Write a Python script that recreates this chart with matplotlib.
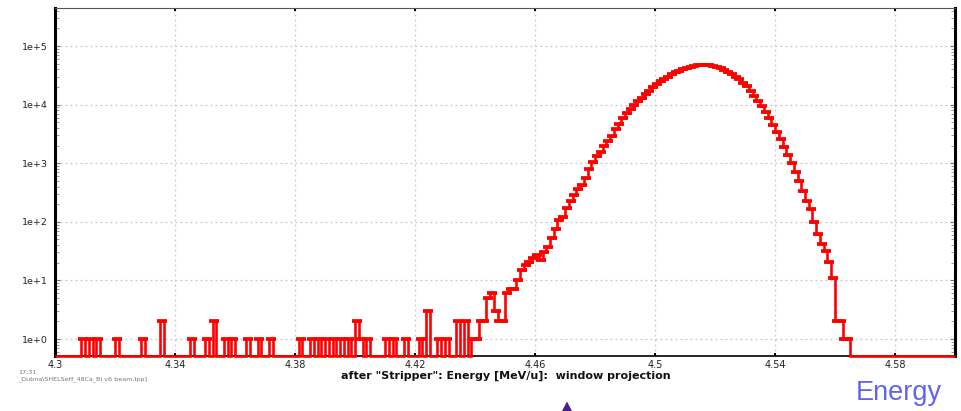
import numpy as np
import matplotlib
matplotlib.use("Agg")
import matplotlib.pyplot as plt
from matplotlib.ticker import LogLocator, NullFormatter
from matplotlib.patches import Polygon

# Histogram binning (energy in MeV/u)
e_min, e_max = 4.3, 4.6

# Counts per bin (240 bins of 0.00125 MeV/u)
counts = [
    0, 0, 0, 0, 0, 0, 0, 1, 0, 1, 0, 1, 0, 0, 0, 0, 1, 0, 0, 0,
    0, 0, 0, 1, 0, 0, 0, 0, 2, 0, 0, 0, 0, 0, 0, 0, 1, 0, 0, 0,
    1, 0, 2, 0, 0, 1, 0, 1, 0, 0, 0, 1, 0, 0, 1, 0, 0, 1, 0, 0,
    0, 0, 0, 0, 0, 1, 0, 0, 1, 0, 1, 0, 1, 0, 1, 0, 1, 0, 1, 0,
    2, 1, 0, 1, 0, 0, 0, 0, 1, 0, 1, 0, 0, 1, 0, 0, 0, 1, 0, 3,
    0, 0, 1, 0, 1, 0, 0, 2, 0, 2, 0, 1, 1, 2, 2, 5, 6, 3, 2, 2,
    6, 7, 7, 10, 15, 18, 21, 24, 27, 22, 31, 37, 52, 75, 107, 122, 170, 230, 287, 360,
    425, 560, 800, 1070, 1320, 1580, 1950, 2400, 2950, 3800, 4680, 5890, 7080, 8320, 9770, 11480, 13200, 15100, 17400, 19950,
    22400, 25100, 27500, 30200, 33100, 35500, 38000, 40700, 42700, 44700, 46200, 47300, 47900, 47600, 46800, 45200, 43600, 41700, 38900, 36300,
    33100, 30200, 26900, 23400, 20400, 17000, 14100, 11700, 9550, 7590, 5890, 4570, 3470, 2570, 1910, 1380, 1000, 708, 490, 331,
    229, 166, 100, 63, 42, 32, 21, 11, 2, 2, 1, 1, 0, 0, 0, 0, 0, 0, 0, 0,
    0, 0, 0, 0, 0, 0, 0, 0, 0, 0, 0, 0, 0, 0, 0, 0, 0, 0, 0, 0,
]

x_ticks = [4.3, 4.34, 4.38, 4.42, 4.46, 4.5, 4.54, 4.58]
x_tick_labels = ["4.3", "4.34", "4.38", "4.42", "4.46", "4.5", "4.54", "4.58"]
y_ticks = [1, 10, 100, 1000, 10000, 100000]
y_tick_labels = ["1e+0", "1e+1", "1e+2", "1e+3", "1e+4", "1e+5"]

x_label = 'after "Stripper": Energy [MeV/u]:  window projection'
stamp_time = "17:31"
stamp_file = "_Dubna\\SHELSeff_48Ca_Bi v6 beam.lpp]"
side_label = "Energy"

y_floor, y_top = 0.513, 4.46e5

counts = np.asarray(counts, dtype=float)
edges = np.linspace(e_min, e_max, len(counts) + 1)
centers = 0.5 * (edges[:-1] + edges[1:])
# empty bins are drawn along the bottom of the plot
drawn = np.where(counts > 0, counts, y_floor)
filled = counts > 0

W, H = 961, 411
fig = plt.figure(figsize=(W / 100, H / 100), dpi=100)
ax = fig.add_axes([55 / W, 55 / H, 900 / W, 348 / H])
ax.set_yscale("log")
ax.set_xlim(e_min, e_max)
ax.set_ylim(y_floor, y_top)

red = "#ff0000"
ax.stairs(drawn, edges, baseline=None, color=red, lw=1.9, zorder=4, clip_on=False)
ax.plot(centers[filled], counts[filled], ls="none", marker="_", ms=7, mew=2.7,
        color=red, zorder=4)

# grid
ax.set_xticks(x_ticks, x_tick_labels)
ax.set_yticks(y_ticks, y_tick_labels)
ax.yaxis.set_minor_locator(LogLocator(base=10, subs=np.arange(2, 10)))
ax.yaxis.set_minor_formatter(NullFormatter())
ax.grid(True, which="major", ls=(0, (1.5, 2.5)), color="#c8c8c8", lw=0.9, zorder=0)

ax.tick_params(axis="x", which="both", direction="in", length=2.5, width=1.5,
               color="black", top=True, bottom=True, labelsize=7, pad=3,
               labelcolor="#222222")
ax.tick_params(axis="y", which="major", direction="in", length=3.5, width=0.8,
               color="#777777", left=True, right=True, labelsize=6.8, pad=5,
               labelcolor="#222222")
ax.tick_params(axis="y", which="minor", direction="in", length=3, width=0.7,
               color="#999999", left=True, right=True)

for side, lw, col in [("left", 2.2, "black"), ("right", 2.2, "black"),
                      ("top", 0.8, "#555555"), ("bottom", 1.2, "black")]:
    ax.spines[side].set_linewidth(lw)
    ax.spines[side].set_color(col)

fig.text(506 / W, 1 - 376 / H, x_label, ha="center", va="center",
         fontsize=8, fontweight="bold", color="#111111")
fig.text(18 / W, 1 - 372 / H, stamp_time, ha="left", va="center",
         fontsize=4.6, color="#777777")
fig.text(18 / W, 1 - 379 / H, stamp_file, ha="left", va="center",
         fontsize=4.6, color="#777777")
fig.text(899 / W, 1 - 400 / H, side_label, ha="center", va="baseline",
         fontsize=19.5, color="#6262f0", family="Liberation Sans")

tri = Polygon([[562 / W, 0.0], [572 / W, 0.0], [567 / W, 9.5 / H]], closed=True,
              transform=fig.transFigure, facecolor="#4b1c8c", edgecolor="none")
fig.patches.append(tri)

fig.savefig("out.png", dpi=100)
